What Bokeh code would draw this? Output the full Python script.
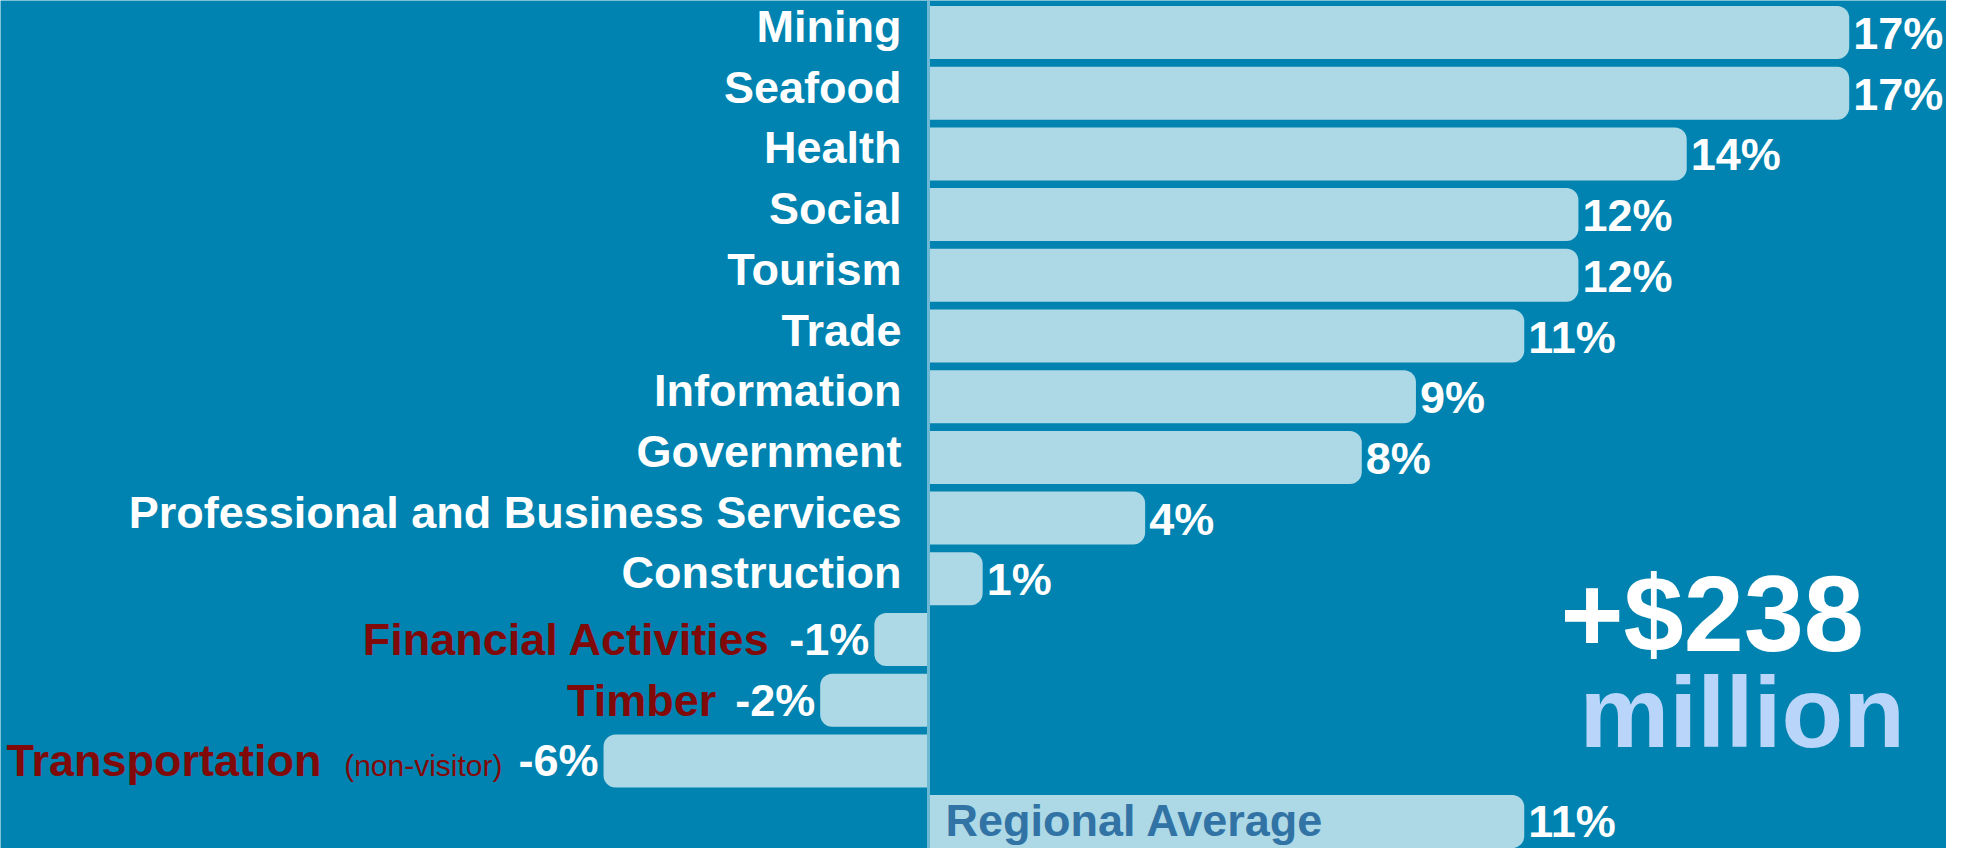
from bokeh.plotting import figure
from bokeh.models import Range1d, ColumnDataSource
from bokeh.core.properties import value
from bokeh.embed import file_html
from bokeh.resources import INLINE

# ---------------- data ----------------
categories = ["Mining", "Seafood", "Health", "Social", "Tourism", "Trade", "Information",
              "Government", "Professional and Business Services", "Construction",
              "Financial Activities", "Timber", "Transportation"]
notes = ["", "", "", "", "", "", "", "", "", "", "", "", "(non-visitor)"]
change_pct = [17, 17, 14, 12, 12, 11, 9, 8, 4, 1, -1, -2, -6]
regional_label = "Regional Average"
regional_pct = 11
total_gain = "+$238"
total_unit = "million"

# ---------------- style ----------------
BG = "#0083b0"
BAR = "#add9e6"
NEG_TXT = "#800a0a"
REG_TXT = "#3273a5"
UNIT_TXT = "#b9d6fa"
FONT = value("Liberation Sans")
PX_PER_PCT = 54.16
ZERO_PX = 928
ROW_PX = 60.7
ROW0_PX = 32
W, H = 1946, 848

x_range = Range1d(-ZERO_PX / PX_PER_PCT, (W - ZERO_PX) / PX_PER_PCT)
y_range = Range1d((H - ROW0_PX) / ROW_PX, -ROW0_PX / ROW_PX)

p = figure(width=W, height=H, x_range=x_range, y_range=y_range,
           output_backend="svg", toolbar_location=None, min_border=0,
           background_fill_color=BG, border_fill_color=BG, outline_line_color=None,
           x_axis_location=None, y_axis_location=None)
p.grid.visible = False

rows = list(range(len(categories)))
pos = [i for i in rows if change_pct[i] >= 0]
neg = [i for i in rows if change_pct[i] < 0]

pos_src = ColumnDataSource(dict(
    y=[rows[i] for i in pos], v=[change_pct[i] for i in pos],
    zero=[0] * len(pos), cat=[categories[i] for i in pos],
    lab=[f"{change_pct[i]}%" for i in pos]))
neg_src = ColumnDataSource(dict(
    y=[rows[i] for i in neg], v=[change_pct[i] for i in neg],
    zero=[0] * len(neg), cat=[categories[i] for i in neg],
    lab=[f"{change_pct[i]}%" for i in neg],
    cat_off=[-104 if notes[i] == "" else -282 for i in neg]))
reg_src = ColumnDataSource(dict(y=[len(categories)], v=[regional_pct], zero=[0],
                                 cat=[regional_label], lab=[f"{regional_pct}%"]))

BH = 0.873
p.hbar(y="y", left="zero", right="v", height=BH, source=pos_src, fill_color=BAR,
       line_color=None, border_radius=(0, 12, 12, 0))
p.hbar(y="y", left="v", right="zero", height=BH, source=neg_src, fill_color=BAR,
       line_color=None, border_radius=(12, 0, 0, 12))
p.hbar(y="y", left="zero", right="v", height=BH, source=reg_src, fill_color=BAR,
       line_color=None, border_radius=(0, 12, 12, 0))

# zero line
p.segment(x0=[0], y0=[y_range.end], x1=[0], y1=[y_range.start],
          line_color="#6db9d4", line_width=3)

# headline figure
p.text(x=[12.02], y=[11.2], text=[total_unit], text_align="left",
       text_baseline="middle", text_color=UNIT_TXT, text_font=FONT,
       text_font_style="bold", text_font_size="101px")
p.text(x=[11.67], y=[9.57], text=[total_gain], text_align="left",
       text_baseline="middle", text_color="white", text_font=FONT,
       text_font_style="bold", text_font_size="108px")

common = dict(text_font=FONT, text_font_style="bold", text_font_size="45px",
              text_baseline="middle")

# positive rows
p.text(x="zero", y="y", text="cat", source=pos_src, text_align="right",
       x_offset=-27, y_offset=-6, text_color="white", **common)
p.text(x="v", y="y", text="lab", source=pos_src, text_align="left",
       x_offset=4, y_offset=1, text_color="white", **common)

# negative rows
p.text(x="v", y="y", text="lab", source=neg_src, text_align="right",
       x_offset=-5, y_offset=0, text_color="white", **common)
p.text(x="v", y="y", text="cat", source=neg_src, text_align="right",
       x_offset="cat_off", y_offset=0, text_color=NEG_TXT, **common)
note_rows = [i for i in neg if notes[i]]
note_src = ColumnDataSource(dict(y=[rows[i] for i in note_rows],
                                 v=[change_pct[i] for i in note_rows],
                                 note=[notes[i] for i in note_rows]))
p.text(x="v", y="y", text="note", source=note_src, text_align="right",
       x_offset=-101, y_offset=5, text_color=NEG_TXT, text_font=FONT,
       text_font_size="30px", text_baseline="middle")

# regional average
p.text(x="zero", y="y", text="cat", source=reg_src, text_align="left",
       x_offset=17, y_offset=-1, text_color=REG_TXT, **common)
p.text(x="v", y="y", text="lab", source=reg_src, text_align="left",
       x_offset=4, y_offset=0, text_color="white", **common)

open("out.html", "w").write(file_html(p, INLINE))
